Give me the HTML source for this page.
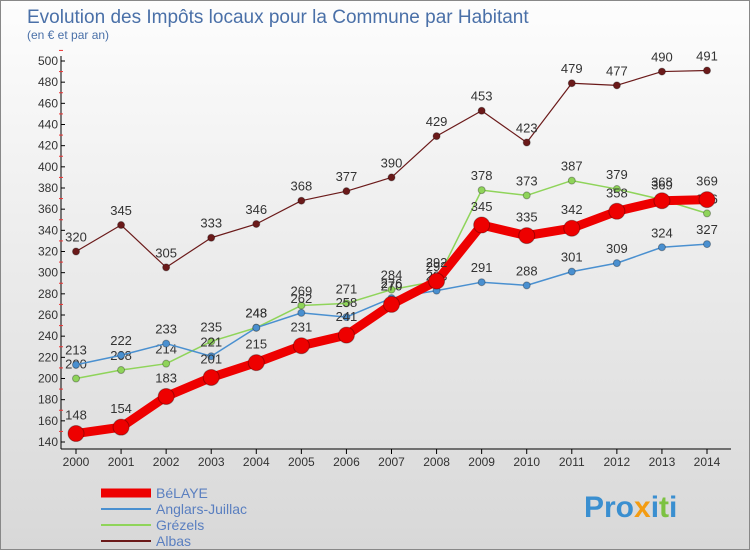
<!DOCTYPE html>
<html><head><meta charset="utf-8"><style>
body{margin:0;}
#wrap{position:relative;width:748px;height:548px;border:1px solid #888;background:linear-gradient(#fdfdfd,#d8d8d8);font-family:"Liberation Sans",sans-serif;overflow:hidden}
svg text{font-family:"Liberation Sans",sans-serif}
</style></head><body>
<div id="wrap">
<svg id="c" width="748" height="548">
<text x="26" y="22" font-size="19" fill="#4a70a8">Evolution des Impôts locaux pour la Commune par Habitant</text>
<text x="26" y="38" font-size="12" fill="#4a70a8">(en € et par an)</text>
<g id="axes"></g><g id="series"></g><g id="legend"></g>
<text x="583" y="516" font-size="30" font-weight="bold" fill="#3a8fd0">Pro<tspan fill="#f39c12">x</tspan><tspan fill="#3a8fd0">i</tspan><tspan fill="#7cc242">t</tspan><tspan fill="#3a8fd0">i</tspan></text>
</svg></div>
<script>
const years=[2000,2001,2002,2003,2004,2005,2006,2007,2008,2009,2010,2011,2012,2013,2014];
const yTicks=[140,160,180,200,220,240,260,280,300,320,340,360,380,400,420,440,460,480,500];
const belaye=[148,154,183,201,215,231,241,270,292,345,335,342,358,368,369];
const anglars=[213,222,233,221,248,262,258,276,283,291,288,301,309,324,327];
const grezels=[200,208,214,235,248,269,271,284,292,378,373,387,379,369,356];
const albas=[320,345,305,333,346,368,377,390,429,453,423,479,477,490,491];
const seriesNames=["BéLAYE","Anglars-Juillac","Grézels","Albas"];
const NS="http://www.w3.org/2000/svg";
const X=i=>75+i*(706-75)/(years.length-1);
const Y=v=>441-(v-140)*(441-60)/360;
function mk(p,t,a){const e=document.createElementNS(NS,t);for(const k in a)e.setAttribute(k,a[k]);p.appendChild(e);return e;}
const ax=document.getElementById('axes');
const yl=mk(ax,'line',{x1:60,y1:55,x2:60,y2:448,stroke:'#000'});


const xl=mk(ax,'line',{x1:60,y1:448,x2:730,y2:448,stroke:'#000'});


yTicks.forEach(v=>{
 mk(ax,'line',{x1:60,y1:Y(v),x2:64,y2:Y(v),stroke:'#000'});
 mk(ax,'line',{x1:58,y1:Y(v+10),x2:62,y2:Y(v+10),stroke:'#e33'});
 const t=mk(ax,'text',{x:57,y:Y(v)+4,'font-size':12,'text-anchor':'end',fill:'#333'});t.textContent=v;
 
 
});
years.forEach((y,i)=>{
 mk(ax,'line',{x1:X(i),y1:448,x2:X(i),y2:453,stroke:'#000'});
 const t=mk(ax,'text',{x:X(i),y:465,'font-size':12,'text-anchor':'middle',fill:'#333'});t.textContent=y;
 
 
});
const sg=document.getElementById('series');
function draw(data,color,w,r,name){
 const g=mk(sg,'g',{});
 
 
 mk(g,'polyline',{points:data.map((v,i)=>X(i)+','+Y(v)).join(' '),fill:'none',stroke:color,'stroke-width':w,'stroke-linejoin':'round'});
 data.forEach((v,i)=>{
  const c=mk(g,'circle',{cx:X(i),cy:Y(v),r:r,fill:color,stroke:'rgba(0,0,0,0.3)'});
  
  
  const t=mk(g,'text',{x:X(i),y:Y(v)-10-(r>5?4:0),'font-size':13,'text-anchor':'middle',fill:'#333'});t.textContent=v;
  
  
 });
}
draw(albas,'#6b1a1a',1.2,3.5,'albas-series');
draw(grezels,'#8fd45a',1.5,3.5,'grezels-series');
draw(anglars,'#4a90d0',1.5,3.5,'anglars-series');
draw(belaye,'#ee0000',9,8,'belaye-series');
const lg=document.getElementById('legend');
const lc=['#ee0000','#4a90d0','#8fd45a','#6b1a1a'],lw=[9,2,2,2];
seriesNames.forEach((n,i)=>{
 const y=492+i*16;
 const g=mk(lg,'g',{});
 
 
 mk(g,'line',{x1:100,y1:y,x2:150,y2:y,stroke:lc[i],'stroke-width':lw[i]});
 const t=mk(g,'text',{x:155,y:y+5,'font-size':14,fill:'#5a7fc0'});t.textContent=n;
});
</script></body></html>
